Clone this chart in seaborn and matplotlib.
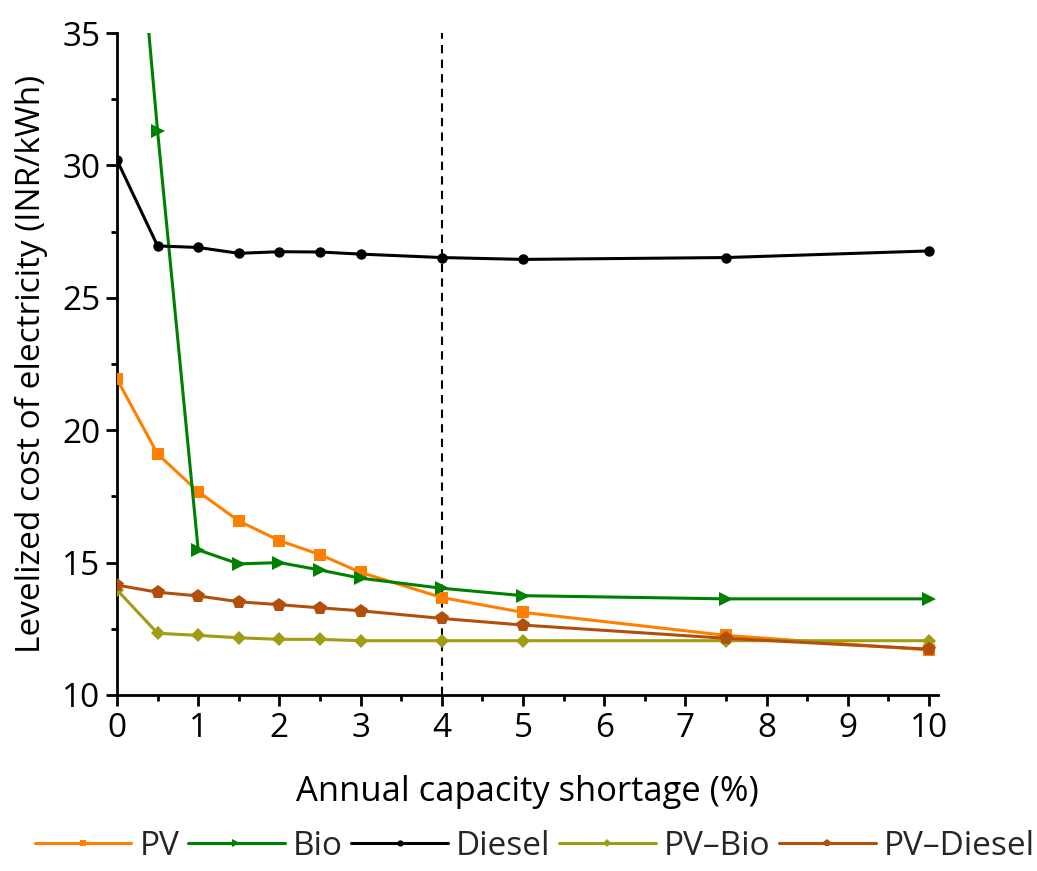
import matplotlib
matplotlib.use("Agg")
import matplotlib.pyplot as plt
from matplotlib.ticker import MultipleLocator
import seaborn as sns
import pandas as pd

shortage = [0, 0.5, 1, 1.5, 2, 2.5, 3, 4, 5, 7.5, 10]
pv = [21.93, 19.1, 17.68, 16.57, 15.83, 15.3, 14.63, 13.68, 13.12, 12.25, 11.7]
bio = [48.5, 31.3, 15.48, 14.95, 15.0, 14.72, 14.41, 14.03, 13.75, 13.63, 13.63]
diesel = [30.2, 26.96, 26.9, 26.68, 26.74, 26.73, 26.65, 26.52, 26.45, 26.52, 26.77]
pv_bio = [13.97, 12.33, 12.25, 12.16, 12.1, 12.1, 12.05, 12.05, 12.05, 12.05, 12.05]
pv_diesel = [14.15, 13.88, 13.74, 13.52, 13.41, 13.29, 13.18, 12.89, 12.64, 12.14, 11.73]

series = {"PV": pv, "Bio": bio, "Diesel": diesel, "PV\u2013Bio": pv_bio, "PV\u2013Diesel": pv_diesel}
colors = {"PV": "#ff8000", "Bio": "#008000", "Diesel": "#000000", "PV\u2013Bio": "#a09c14", "PV\u2013Diesel": "#b0500c"}
markers = {"PV": "s", "Bio": ">", "Diesel": "o", "PV\u2013Bio": "D", "PV\u2013Diesel": "p"}
msizes = {"PV": 8, "Bio": 10, "Diesel": 7.5, "PV\u2013Bio": 7.5, "PV\u2013Diesel": 10}

rows = []
for name, vals in series.items():
    for x, y in zip(shortage, vals):
        rows.append({"x": x, "y": y, "series": name})
df = pd.DataFrame(rows)

sns.set_theme(style="ticks")
plt.rcParams["font.family"] = ["Open Sans", "DejaVu Sans"]

fig = plt.figure(figsize=(10.37, 8.71), dpi=100)
ax = fig.add_axes([0.1128, 0.2021, 0.7917, 0.76])

ax.axvline(4, color="black", lw=1.5, ls=(0, (4, 3)), zorder=1)

for name in series:
    sub = df[df["series"] == name]
    sns.lineplot(data=sub, x="x", y="y", ax=ax, color=colors[name], marker=markers[name],
                 markersize=msizes[name], markeredgewidth=0, lw=2.2, label=name, zorder=3)

ax.set_xlim(0, 10.11)
ax.set_ylim(10, 35)
ax.xaxis.set_major_locator(MultipleLocator(1))
ax.xaxis.set_minor_locator(MultipleLocator(0.5))
ax.yaxis.set_major_locator(MultipleLocator(5))
ax.yaxis.set_minor_locator(MultipleLocator(2.5))
ax.tick_params(which="major", direction="out", length=8, width=2, labelsize=24, color="black",
               labelcolor="black", pad=4)
ax.tick_params(which="minor", direction="out", length=4.5, width=2, color="black")
for s in ["top", "right"]:
    ax.spines[s].set_visible(False)
for s in ["left", "bottom"]:
    ax.spines[s].set_linewidth(2)
    ax.spines[s].set_color("black")

ax.set_xlabel("Annual capacity shortage (%)", fontsize=24.8, labelpad=22, color="black")
ax.set_ylabel("Levelized cost of electricity (INR/kWh)", fontsize=24, labelpad=10, color="black")

leg = ax.legend(loc="center", bbox_to_anchor=(0.509, -0.229), ncol=5, frameon=False,
                fontsize=24, handlelength=2.9, handletextpad=0.25, columnspacing=0.25,
                markerscale=0.6, borderaxespad=0, borderpad=0)

fig.savefig("out.png", dpi=100)
